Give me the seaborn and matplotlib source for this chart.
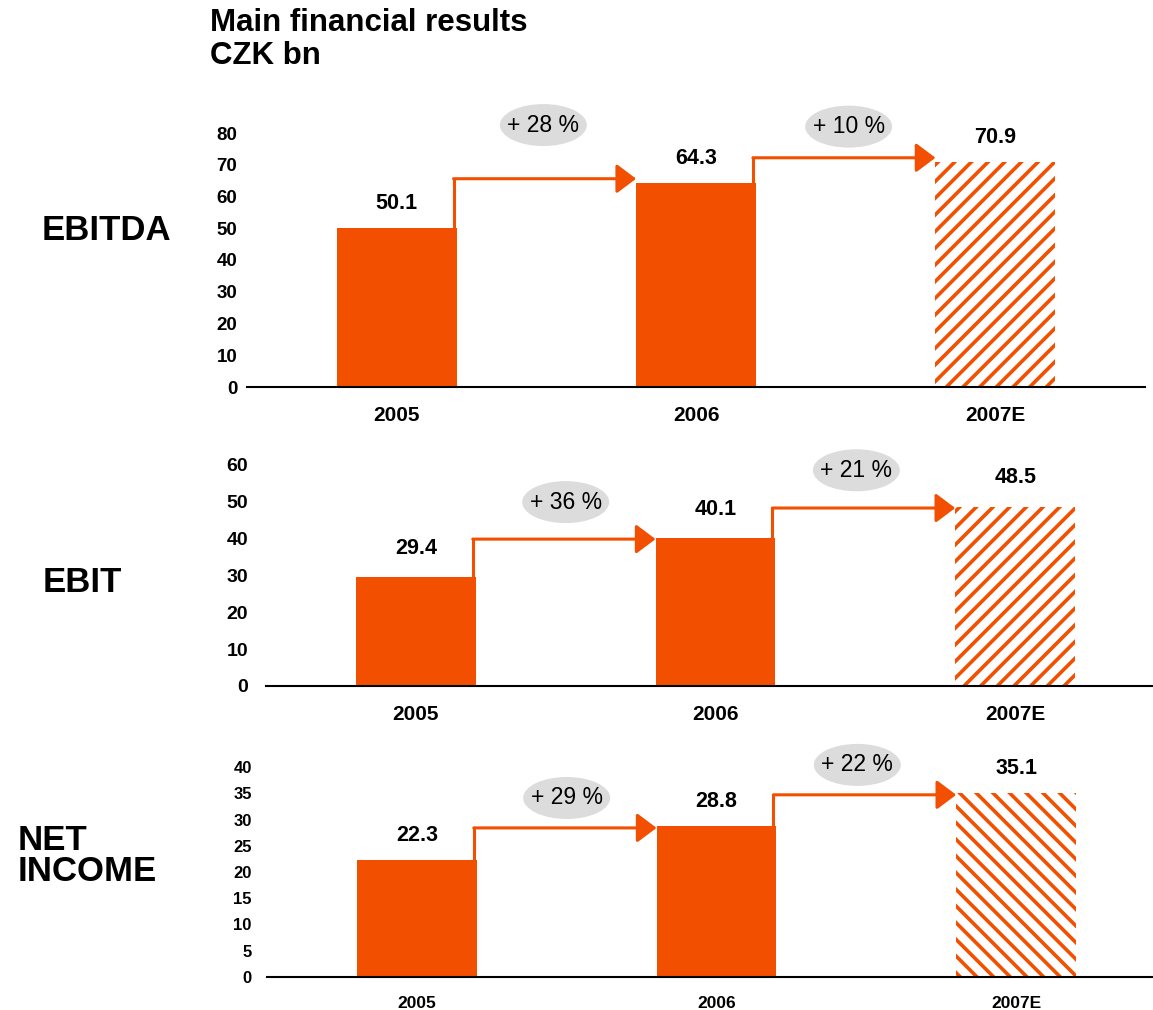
import matplotlib
matplotlib.use("Agg")
import matplotlib.pyplot as plt
from matplotlib.patches import Ellipse
from matplotlib.transforms import ScaledTranslation
import seaborn as sns

# data
years = ["2005", "2006", "2007E"]
ebitda = [50.1, 64.3, 70.9]
ebit = [29.4, 40.1, 48.5]
net_income = [22.3, 28.8, 35.1]
growth_ebitda = ["+ 28 %", "+ 10 %"]
growth_ebit = ["+ 36 %", "+ 21 %"]
growth_net = ["+ 29 %", "+ 22 %"]
row_labels = ["EBITDA", "EBIT", "NET\nINCOME"]

ORANGE = "#F25000"
BUBBLE = "#DCDCDC"

sns.set_style("white")
plt.rcParams["font.family"] = ["Liberation Sans", "DejaVu Sans"]
plt.rcParams["text.color"] = "black"
plt.rcParams["xtick.color"] = "black"
plt.rcParams["ytick.color"] = "black"
plt.rcParams["hatch.linewidth"] = 2.6

W, H = 1153, 1010
fig = plt.figure(figsize=(W / 100, H / 100), dpi=100)

# layout per panel (pixels from the reference)
panels = [
    dict(vals=ebitda, growth=growth_ebitda, label=row_labels[0],
         rect=(247, 387, 898, 254), ylim=80, step=10, hatch="//",
         arrow_pad=1.3, bub_x=[0.49, 1.51], bub_y=[82.5, 82.0],
         ypad=7, ysize=13.5, xsize=15, vpad=10, label_y=230, label_x=42),
    dict(vals=ebit, growth=growth_ebit, label=row_labels[1],
         rect=(266, 686, 899, 222), ylim=60, step=10, hatch="//",
         arrow_pad=-0.4, bub_x=[0.5, 1.47], bub_y=[49.7, 58.3],
         ypad=13, ysize=14, xsize=15, vpad=13, label_y=583, label_x=43),
    dict(vals=net_income, growth=growth_net, label=row_labels[2],
         rect=(267, 977, 899, 210), ylim=40, step=5, hatch="\\\\",
         arrow_pad=-0.4, bub_x=[0.5, 1.47], bub_y=[34.1, 40.4],
         ypad=11, ysize=12, xsize=12.5, vpad=10, label_y=856, label_x=18),
]

for p in panels:
    left, base, width, height = p["rect"]
    ax = fig.add_axes([left / W, 1 - base / H, width / W, height / H])
    ax.patch.set_alpha(0)
    vals = p["vals"]

    sns.barplot(x=years, y=vals, hue=years, palette=[ORANGE, ORANGE, "white"],
                width=0.4, saturation=1, legend=False, ax=ax)
    for bar in ax.patches:
        cx = bar.get_x() + bar.get_width() / 2
        bar.set_linewidth(0)
        if abs(cx - 2) < 0.1:
            bar.set_facecolor("white")
            bar.set_edgecolor(ORANGE)
            bar.set_hatch(p["hatch"])

    # value labels
    for i, v in enumerate(vals):
        ax.annotate(f"{v:.1f}", (i, v), xytext=(0, p["vpad"]),
                    textcoords="offset points", ha="center", va="bottom",
                    fontsize=15.5, fontweight="bold")

    ax.set_xlim(-0.5, 2.5)
    ax.set_ylim(0, p["ylim"])

    # growth arrows + bubbles
    for i in range(2):
        x0, x1 = i + 0.19, i + 0.8
        lvl = vals[i + 1] + p["arrow_pad"]
        ax.plot([x0, x0], [vals[i], lvl], color=ORANGE, lw=2.2,
                solid_capstyle="projecting", clip_on=False)
        ax.annotate("", xy=(x1, lvl), xytext=(x0, lvl),
                    arrowprops=dict(arrowstyle="-|>,head_length=1.2,head_width=0.9",
                                    mutation_scale=10, color=ORANGE, lw=2.2,
                                    shrinkA=0, shrinkB=0),
                    annotation_clip=False)
        bx, by = p["bub_x"][i], p["bub_y"][i]
        tr = fig.dpi_scale_trans + ScaledTranslation(bx, by, ax.transData)
        ell = Ellipse((0, 0), 0.87, 0.42, facecolor=BUBBLE, edgecolor="none",
                      transform=tr, zorder=2)
        fig.add_artist(ell)
        fig.text(0, 0, p["growth"][i], transform=tr, ha="center", va="center",
                 fontsize=16.5, zorder=3)

    ax.set_yticks(range(0, p["ylim"] + 1, p["step"]))
    ax.set_xlabel("")
    ax.set_ylabel("")
    sns.despine(ax=ax, left=True)
    ax.spines["bottom"].set_color("black")
    ax.spines["bottom"].set_linewidth(1.5)
    ax.tick_params(axis="x", length=0, pad=14, labelsize=p["xsize"])
    ax.tick_params(axis="y", length=0, pad=p["ypad"], labelsize=p["ysize"])
    for t in ax.get_xticklabels() + ax.get_yticklabels():
        t.set_fontweight("bold")

    fig.text(p["label_x"] / W, 1 - p["label_y"] / H, p["label"], ha="left",
             va="center", fontsize=25, fontweight="bold", linespacing=0.95)

fig.text(210 / W, 1 - 8 / H, "Main financial results\nCZK bn", ha="left", va="top",
         fontsize=22.5, fontweight="bold", linespacing=1.15)

fig.savefig("out.png", dpi=100)
